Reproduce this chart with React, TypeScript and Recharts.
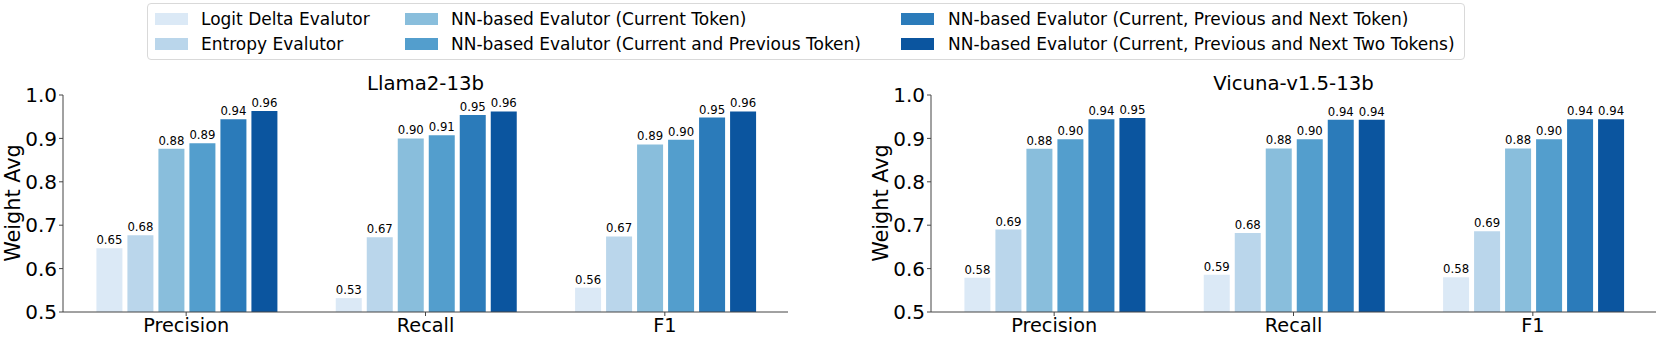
import React from 'react';
import { BarChart, Bar, XAxis, YAxis, LabelList } from 'recharts';

const FONT = '"DejaVu Sans", "Liberation Sans", sans-serif';

const metrics = ['Precision', 'Recall', 'F1'];

const seriesNames = [
  'Logit Delta Evalutor',
  'Entropy Evalutor',
  'NN-based Evalutor (Current Token)',
  'NN-based Evalutor (Current and Previous Token)',
  'NN-based Evalutor (Current, Previous and Next Token)',
  'NN-based Evalutor (Current, Previous and Next Two Tokens)',
];

const seriesColors = ['#dbe9f6', '#bad6eb', '#89bedc', '#539ecd', '#2b7bba', '#0b559f'];

// Llama2-13b — one list per evaluator, in order Precision, Recall, F1
const llamaLogit = [0.647, 0.532, 0.556];
const llamaEntropy = [0.677, 0.672, 0.674];
const llamaNnCur = [0.876, 0.9, 0.886];
const llamaNnPrev = [0.889, 0.907, 0.897];
const llamaNnNext = [0.944, 0.954, 0.948];
const llamaNnNext2 = [0.963, 0.962, 0.962];

// Vicuna-v1.5-13b
const vicunaLogit = [0.579, 0.586, 0.58];
const vicunaEntropy = [0.69, 0.682, 0.686];
const vicunaNnCur = [0.876, 0.877, 0.877];
const vicunaNnPrev = [0.898, 0.898, 0.898];
const vicunaNnNext = [0.944, 0.943, 0.944];
const vicunaNnNext2 = [0.947, 0.943, 0.944];

const yTicks = [0.5, 0.6, 0.7, 0.8, 0.9, 1.0];

const keys = ['s0', 's1', 's2', 's3', 's4', 's5'];

function buildRows(series: number[][]) {
  return metrics.map((m, i) => {
    const row: Record<string, any> = { metric: m };
    series.forEach((vals, s) => {
      row[keys[s]] = vals[i];
    });
    return row;
  });
}

const llamaRows = buildRows([llamaLogit, llamaEntropy, llamaNnCur, llamaNnPrev, llamaNnNext, llamaNnNext2]);
const vicunaRows = buildRows([vicunaLogit, vicunaEntropy, vicunaNnCur, vicunaNnPrev, vicunaNnNext, vicunaNnNext2]);

const AXIS = '#444';

function Panel({ rows, width, rightMargin }: { rows: any[]; width: number; rightMargin: number }) {
  return (
    <BarChart
      width={width}
      height={341}
      data={rows}
      margin={{ top: 95, right: rightMargin, bottom: 0, left: 0 }}
      barCategoryGap="12.5%"
      barGap={5}
    >
      <XAxis
        dataKey="metric"
        height={29}
        padding={{ left: 3.5, right: 3.5 }}
        stroke={AXIS}
        tickSize={4}
        tickMargin={1.8}
        tick={{ fontSize: 19.3, fill: '#000', fontFamily: FONT }}
      />
      <YAxis
        type="number"
        width={63}
        domain={[0.5, 1]}
        ticks={yTicks}
        allowDataOverflow
        stroke={AXIS}
        tickSize={4}
        tickFormatter={(v: number) => v.toFixed(1)}
        tick={{ fontSize: 20, fill: '#000', fontFamily: FONT }}
      />
      {keys.map((k, i) => (
        <Bar key={k} dataKey={k} fill={seriesColors[i]} isAnimationActive={false}>
          <LabelList
            dataKey={k}
            position="top"
            offset={4}
            formatter={(v: any) => Number(v).toFixed(2)}
            fontSize={11.7}
            fill="#000"
            fontFamily={FONT}
          />
        </Bar>
      ))}
    </BarChart>
  );
}

const legendCols = [
  { swatch: 155, text: 201 },
  { swatch: 405, text: 451 },
  { swatch: 901, text: 948 },
];
const legendRows = [18.5, 44];

function Legend() {
  return (
    <>
      <div
        style={{
          position: 'absolute',
          left: 147,
          top: 3,
          width: 1318,
          height: 57,
          border: '1px solid #d9d9d9',
          borderRadius: 4,
          boxSizing: 'border-box',
          background: '#fff',
        }}
      />
      {seriesNames.map((name, i) => {
        const col = legendCols[Math.floor(i / 2)];
        const cy = legendRows[i % 2];
        return (
          <React.Fragment key={name}>
            <div
              style={{
                position: 'absolute',
                left: col.swatch,
                top: cy - 6,
                width: 33,
                height: 12,
                background: seriesColors[i],
              }}
            />
            <div
              style={{
                position: 'absolute',
                left: col.text,
                top: cy - 10,
                height: 20,
                lineHeight: '20px',
                fontSize: 17,
                fontFamily: FONT,
                color: '#000',
                whiteSpace: 'nowrap',
              }}
            >
              {name}
            </div>
          </React.Fragment>
        );
      })}
    </>
  );
}

export default function App() {
  return (
    <div
      style={{
        position: 'absolute',
        left: 0,
        top: 0,
        width: 1661,
        height: 341,
        overflow: 'hidden',
        background: '#fff',
        fontFamily: FONT,
      }}
    >
      <div style={{ position: 'absolute', left: 0, top: 0 }}>
        <Panel rows={llamaRows} width={800} rightMargin={12} />
      </div>
      <div style={{ position: 'absolute', left: 868, top: 0 }}>
        <Panel rows={vicunaRows} width={793} rightMargin={5} />
      </div>
      <svg
        width={1661}
        height={341}
        style={{ position: 'absolute', left: 0, top: 0, pointerEvents: 'none' }}
      >
        <text x={425.5} y={90} textAnchor="middle" fontSize={19.7} fontFamily={FONT} fill="#000">
          Llama2-13b
        </text>
        <text x={1293.5} y={90} textAnchor="middle" fontSize={19.7} fontFamily={FONT} fill="#000">
          Vicuna-v1.5-13b
        </text>
        <text
          transform="translate(20,203) rotate(-90)"
          textAnchor="middle"
          fontSize={20.8}
          fontFamily={FONT}
          fill="#000"
        >
          Weight Avg
        </text>
        <text
          transform="translate(888,203) rotate(-90)"
          textAnchor="middle"
          fontSize={20.8}
          fontFamily={FONT}
          fill="#000"
        >
          Weight Avg
        </text>
      </svg>
      <Legend />
    </div>
  );
}
